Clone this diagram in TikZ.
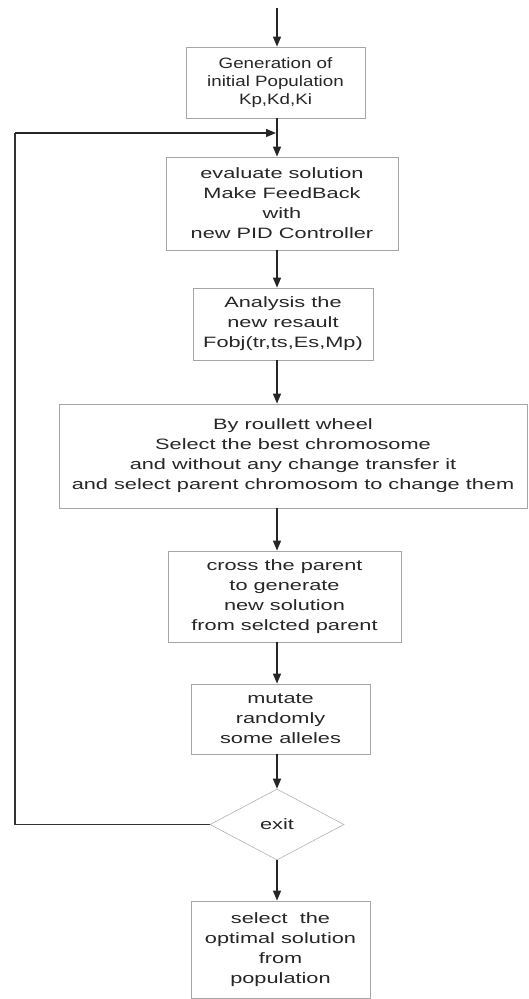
\documentclass[tikz,border=0pt]{standalone}
\usepackage{fontspec}
\setmainfont{Liberation Sans}
\newfontfamily\wfont[FakeStretch=1.45]{Liberation Sans}
\newfontfamily\nfont[FakeStretch=1.25]{Liberation Sans}
\usetikzlibrary{shapes.geometric,arrows.meta}
\begin{document}
\begin{tikzpicture}[x=1pt,y=-1pt,
  box/.style={draw=black!35, line width=0.8pt, rectangle, inner sep=0pt, align=center,
    font=\wfont\fontsize{15}{20}\selectfont, text=black!85},
  dec/.style={draw=black!30, line width=0.6pt, diamond, inner sep=0pt, aspect=1.9,
    font=\wfont\fontsize{15}{20}\selectfont, text=black!85},
  arr/.style={-{Triangle[length=10pt,width=8pt]}, line width=1.4pt, draw=black!85},
  fb/.style={line width=1.3pt, draw=black!80}]
\useasboundingbox (0,0) rectangle (528,999);
\coordinate (S) at (277,8);
\node[box, font=\nfont\fontsize{15}{18}\selectfont, minimum width=179pt, minimum height=71pt] (b1) at (275.5,82.5)
  {Generation of\\initial Population\\Kp,Kd,Ki};
\node[box, minimum width=232pt, minimum height=93pt] (b2) at (282,203.5)
  {evaluate solution\\Make FeedBack\\with\\new PID Controller};
\node[box, minimum width=180pt, minimum height=72pt] (b3) at (283,324)
  {Analysis the\\new resault\\Fobj(tr,ts,Es,Mp)};
\node[box, minimum width=468pt, minimum height=104pt] (b4) at (293,456)
  {By roullett wheel\\Select the best chromosome\\and without any change transfer it\\and select parent chromosom to change them};
\node[box, minimum width=233pt, minimum height=91pt] (b5) at (284.5,596.5)
  {cross the parent\\to generate\\new solution\\from selcted parent};
\node[box, minimum width=179pt, minimum height=70pt] (b6) at (280.5,719)
  {mutate\\randomly\\some alleles};
\node[dec, minimum width=134pt, minimum height=71pt] (d) at (277,824.5) {exit};
\node[box, minimum width=179pt, minimum height=97pt] (b7) at (280.5,949.5)
  {select\ \ the\\optimal solution\\from\\population};
\coordinate (L) at (15,133);
\coordinate (J) at (276,133);
\draw[arr] (S) -- (b1.north -| S);
\draw[arr] (b1.south -| S) -- (b2.north -| S);
\draw[arr] (b2.south -| S) -- (b3.north -| S);
\draw[arr] (b3.south -| S) -- (b4.north -| S);
\draw[arr] (b4.south -| S) -- (b5.north -| S);
\draw[arr] (b5.south -| S) -- (b6.north -| S);
\draw[arr] (b6.south -| S) -- (d.north);
\draw[arr] (d.south) -- (b7.north -| S);
\draw[fb] (d.west) -| (L);
\draw[arr, line width=1.3pt] (L) -- (J);
\end{tikzpicture}
\end{document}
